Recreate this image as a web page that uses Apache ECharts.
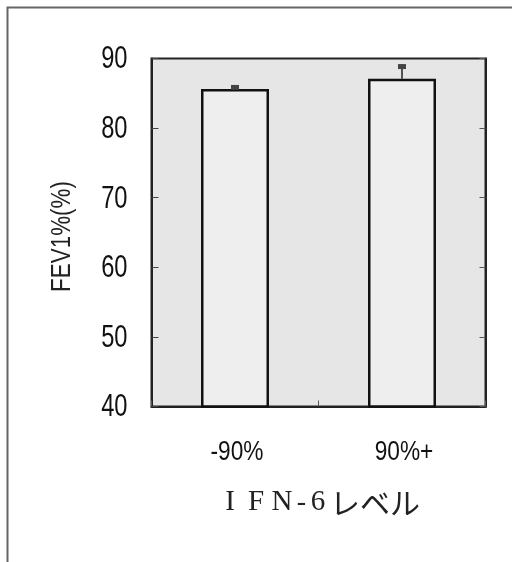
<!DOCTYPE html>
<html>
<head>
<meta charset="utf-8">
<script src="https://cdn.jsdelivr.net/npm/echarts@6/dist/echarts.min.js"></script>
<style>
  html, body { margin: 0; padding: 0; background: #fff; }
  #chart { width: 512px; height: 562px; }
</style>
</head>
<body>
<div id="chart"></div>
<script>
// FEV1% by IFN-6 level: group means with upper error bars
const categories = ['-90%', '90%+'];
const meanValues = [85.6, 87.1];
const errorValues = [0.6, 2.1];
const yTicks = [40, 50, 60, 70, 80, 90];
const yAxisTitle = 'FEV1%(%)';

const yMin = yTicks[0];
const yMax = yTicks[yTicks.length - 1];
const yStep = yTicks[1] - yTicks[0];

// plot box placement (pixels)
const gridLeft = 151.5, gridRight = 26.5, gridTop = 58.5, gridBottom = 155.5;
const CHART_H = 562;

// tall condensed numerals: a regular sans squeezed horizontally
const numFont = '"Liberation Sans", Arial, sans-serif';

const errorData = categories.map((c, i) => [i, meanValues[i], errorValues[i]]);

const chart = echarts.init(document.getElementById('chart'), null, { renderer: 'canvas' });

const frame = {
  id: 'frame',
  type: 'rect',
  left: 5, top: 5,
  shape: { width: 600, height: 555.5 },
  style: { fill: 'none', stroke: '#666', lineWidth: 2 },
  silent: true
};

chart.setOption({
  backgroundColor: '#ffffff',
  animation: false,
  graphic: [frame],
  grid: {
    left: gridLeft, right: gridRight, top: gridTop, bottom: gridBottom,
    show: true,
    backgroundColor: '#e6e6e6',
    borderColor: '#222',
    borderWidth: 2
  },
  xAxis: {
    type: 'category',
    data: categories,
    boundaryGap: true,
    axisLine: { show: true, lineStyle: { color: '#222', width: 2 } },
    axisTick: { show: true, inside: true, length: 6, lineStyle: { color: '#555' } },
    axisLabel: { show: false },
    name: '{c|I}{c|F}{c|N}{d|-}{e|6}{k|レベル}',
    nameLocation: 'middle',
    nameGap: 81,
    nameTextStyle: {
      rich: {
        c: { width: 26, align: 'center', fontSize: 29, fontFamily: '"Liberation Serif", serif', color: '#222' },
        d: { width: 13, align: 'center', fontSize: 28, fontFamily: '"Liberation Serif", serif', color: '#222' },
        e: { width: 20, align: 'center', fontSize: 29, fontFamily: '"Liberation Serif", serif', color: '#222' },
        k: { fontSize: 30, fontFamily: '"Noto Sans CJK JP", sans-serif', color: '#222', padding: [0, 0, 0, 2] }
      }
    }
  },
  yAxis: [{
    type: 'value',
    min: yMin, max: yMax, interval: yStep,
    position: 'left',
    splitLine: { show: false },
    axisLine: { show: true, lineStyle: { color: '#222', width: 2 } },
    axisTick: { show: true, inside: true, length: 7, lineStyle: { color: '#444' } },
    axisLabel: { show: false }
  }, {
    type: 'value',
    min: yMin, max: yMax, interval: yStep,
    position: 'right',
    splitLine: { show: false },
    axisLine: { show: true, lineStyle: { color: '#222', width: 2 } },
    axisTick: { show: true, inside: true, length: 6, lineStyle: { color: '#555' } },
    axisLabel: { show: false }
  }],
  series: [{
    type: 'bar',
    data: meanValues,
    barWidth: 68,
    itemStyle: { color: '#eeeeee', borderColor: '#111', borderWidth: 2.5 },
    z: 2
  }, {
    type: 'custom',
    data: errorData,
    z: 3,
    renderItem: function (params, api) {
      const base = api.coord([api.value(0), api.value(1)]);
      const top = api.coord([api.value(0), api.value(1) + api.value(2)]);
      return {
        type: 'group',
        children: [{
          type: 'line',
          shape: { x1: base[0], y1: base[1], x2: top[0], y2: top[1] },
          style: { stroke: '#222', lineWidth: 1.5 }
        }, {
          type: 'rect',
          shape: { x: top[0] - 4, y: top[1], width: 8, height: 5 },
          style: { fill: '#444' }
        }]
      };
    }
  }]
});

// Axis labels as condensed text, placed through the axes' own scales
const labels = [];
yTicks.forEach(function (v, i) {
  const py = chart.convertToPixel({ yAxisIndex: 0 }, v);
  labels.push({
    id: 'ytick' + i,
    type: 'text',
    x: gridLeft - 24, y: py + 1,
    scaleX: 0.74,
    silent: true,
    style: {
      text: String(v), fill: '#111',
      font: '32px ' + numFont,
      align: 'right', verticalAlign: 'middle'
    }
  });
});
const axisBottomY = CHART_H - gridBottom;
categories.forEach(function (c, i) {
  const px = chart.convertToPixel({ xAxisIndex: 0 }, i);
  labels.push({
    id: 'xcat' + i,
    type: 'text',
    x: px + 2, y: axisBottomY + 46,
    scaleX: 0.84,
    silent: true,
    style: {
      text: c, fill: '#111',
      font: '27px ' + numFont,
      align: 'center', verticalAlign: 'middle'
    }
  });
});
const midY = (chart.convertToPixel({ yAxisIndex: 0 }, yMin) + chart.convertToPixel({ yAxisIndex: 0 }, yMax)) / 2;
labels.push({
  id: 'ytitle',
  type: 'text',
  x: 62, y: midY + 4,
  rotation: Math.PI / 2,
  scaleX: 0.8,
  silent: true,
  style: {
    text: yAxisTitle, fill: '#222',
    font: '28px ' + numFont,
    align: 'center', verticalAlign: 'middle'
  }
});

chart.setOption({ graphic: [frame].concat(labels) });
</script>
</body>
</html>
